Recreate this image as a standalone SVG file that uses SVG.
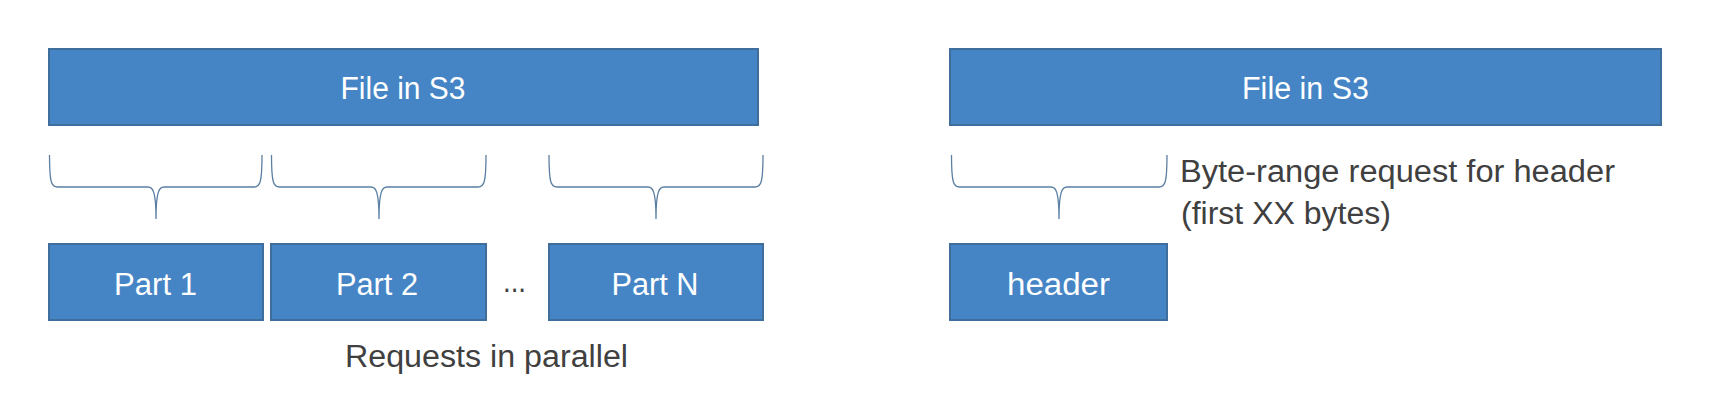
<svg xmlns="http://www.w3.org/2000/svg" width="1736" height="401" viewBox="0 0 1736 401">
<style>
.box{fill:#4585C6;stroke:#3F6E9C;stroke-width:2}
.lbl{font-family:"Liberation Sans",Arial,sans-serif;font-size:31px;fill:#ffffff}
.note{font-family:"Liberation Sans",Arial,sans-serif;font-size:31px;fill:#404040}
.brace{fill:none;stroke:#5B7FA3;stroke-width:1.3}
</style>
<rect width="1736" height="401" fill="#ffffff"/>
<g id="file-left">
<rect class="box" x="49" y="49" width="709" height="76"/>
<text class="lbl" x="340.5" y="99" textLength="125" lengthAdjust="spacingAndGlyphs">File in S3</text>
</g>
<g id="file-right">
<rect class="box" x="950" y="49" width="711" height="76"/>
<text class="lbl" x="1242" y="99" textLength="127" lengthAdjust="spacingAndGlyphs">File in S3</text>
</g>
<g id="part1">
<rect class="box" x="49" y="244" width="214" height="76"/>
<text class="lbl" x="114" y="295" textLength="83" lengthAdjust="spacingAndGlyphs">Part 1</text>
</g>
<g id="part2">
<rect class="box" x="271" y="244" width="215" height="76"/>
<text class="lbl" x="336" y="295" textLength="82" lengthAdjust="spacingAndGlyphs">Part 2</text>
</g>
<g id="ellipsis">
<text class="note" x="503" y="292" textLength="23" lengthAdjust="spacingAndGlyphs">...</text>
</g>
<g id="partN">
<rect class="box" x="549" y="244" width="214" height="76"/>
<text class="lbl" x="611.5" y="295" textLength="87" lengthAdjust="spacingAndGlyphs">Part N</text>
</g>
<g id="header">
<rect class="box" x="950" y="244" width="217" height="76"/>
<text class="lbl" x="1007" y="295" textLength="103" lengthAdjust="spacingAndGlyphs">header</text>
</g>
<g id="connectors">
<path class="brace" d="M49.5 155 C49.5 183 51.5 187 57.5 187 L148 187 C153 187 156 192 156 219 C156 192 159 187 164 187 L254 187 C260 187 262 183 262 155"/>
<path class="brace" d="M271.5 155 C271.5 183 273.5 187 279.5 187 L371 187 C376 187 379 192 379 219 C379 192 382 187 387 187 L478 187 C484 187 486 183 486 155"/>
<path class="brace" d="M549 155 C549 183 551 187 557 187 L648 187 C653 187 656 192 656 219 C656 192 659 187 664 187 L755 187 C761 187 763 183 763 155"/>
<path class="brace" d="M951.5 155 C951.5 183 953.5 187 959.5 187 L1051 187 C1056 187 1059 192 1059 219 C1059 192 1062 187 1067 187 L1159 187 C1165 187 1167 183 1167 155"/>
</g>
<g id="labels">
<text class="note" x="345" y="367" textLength="283" lengthAdjust="spacingAndGlyphs">Requests in parallel</text>
<text class="note" x="1180" y="182" textLength="435" lengthAdjust="spacingAndGlyphs">Byte-range request for header</text>
<text class="note" x="1181" y="224" textLength="210" lengthAdjust="spacingAndGlyphs">(first XX bytes)</text>
</g>
</svg>
